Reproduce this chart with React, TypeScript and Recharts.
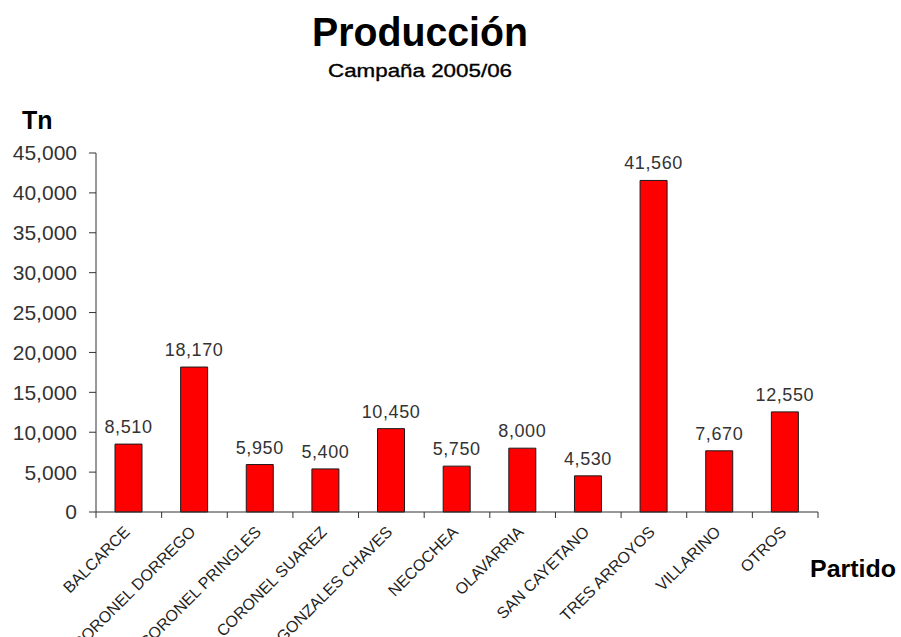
import React from "react";
import { BarChart, Bar, XAxis, YAxis, LabelList } from "recharts";

const partidos = [
  "BALCARCE",
  "CORONEL DORREGO",
  "CORONEL PRINGLES",
  "CORONEL SUAREZ",
  "GONZALES CHAVES",
  "NECOCHEA",
  "OLAVARRIA",
  "SAN CAYETANO",
  "TRES ARROYOS",
  "VILLARINO",
  "OTROS",
];
const produccion = [8510, 18170, 5950, 5400, 10450, 5750, 8000, 4530, 41560, 7670, 12550];
const yTicks = [0, 5000, 10000, 15000, 20000, 25000, 30000, 35000, 40000, 45000];

const FONT = '"Liberation Sans", Arial, sans-serif';
const INK = "#222";

const fmt = (v: number) => v.toLocaleString("en-US");

// category label + boundary tick marks (ticks sit between bars, like Excel)
function PartidoTick(props: any) {
  const { x, y, payload, index } = props;
  const half = payload.offset || 0;
  const isLast = index === partidos.length - 1;
  const tx = x + 2;
  const ty = y + 21;
  return (
    <g>
      <line x1={x - half} x2={x - half} y1={y} y2={y + 6} stroke="#333" />
      {isLast && <line x1={x + half} x2={x + half} y1={y} y2={y + 6} stroke="#333" />}
      <text
        x={tx}
        y={ty}
        transform={`rotate(-45 ${tx} ${ty})`}
        textAnchor="end"
        fontSize={16}
        fontFamily={FONT}
        fill={INK}
      >
        {payload.value}
      </text>
    </g>
  );
}

export default function App() {
  const data = partidos.map((p, i) => ({ partido: p, tn: produccion[i] }));
  return (
    <div style={{ position: "absolute", left: 0, top: 0, width: 901, height: 700, background: "#fff" }}>
      <BarChart
        width={901}
        height={700}
        data={data}
        margin={{ top: 153, right: 83, left: 0, bottom: 38 }}
        barSize={27}
      >
        <YAxis
          domain={[0, 45000]}
          ticks={yTicks}
          width={96}
          tickFormatter={fmt}
          tickSize={7}
          tickMargin={12}
          axisLine={{ stroke: "#333" }}
          tickLine={{ stroke: "#333" }}
          tick={{ fontSize: 21, fill: "#333", fontFamily: FONT }}
        />
        <XAxis
          dataKey="partido"
          interval={0}
          height={150}
          tickSize={0}
          tickMargin={0}
          tickLine={false}
          axisLine={{ stroke: "#333" }}
          tick={<PartidoTick />}
        />
        <Bar dataKey="tn" fill="#ff0000" stroke="#1a1a1a" strokeWidth={1} isAnimationActive={false}>
          <LabelList
            dataKey="tn"
            position="top"
            offset={11}
            formatter={(v: any) => fmt(Number(v))}
            style={{ fontSize: 18, fill: "#333", fontFamily: FONT, letterSpacing: 0.6 }}
          />
        </Bar>
      </BarChart>
      <svg
        width={901}
        height={700}
        style={{ position: "absolute", left: 0, top: 0, pointerEvents: "none" }}
      >
        <text x={420} y={46} textAnchor="middle" fontSize={40} fontWeight="bold" fontFamily={FONT} fill="#000" textLength={216} lengthAdjust="spacingAndGlyphs">
          Producción
        </text>
        <text x={420} y={77} textAnchor="middle" fontSize={19} fontFamily={FONT} fill="#000" stroke="#000" strokeWidth={0.35} textLength={184} lengthAdjust="spacingAndGlyphs">
          Campaña 2005/06
        </text>
        <text x={22} y={129} fontSize={25} fontWeight="bold" fontFamily={FONT} fill="#000">
          Tn
        </text>
        <text x={810} y={577} fontSize={24} fontWeight="bold" fontFamily={FONT} fill="#000" textLength={86} lengthAdjust="spacingAndGlyphs">
          Partido
        </text>
      </svg>
    </div>
  );
}
